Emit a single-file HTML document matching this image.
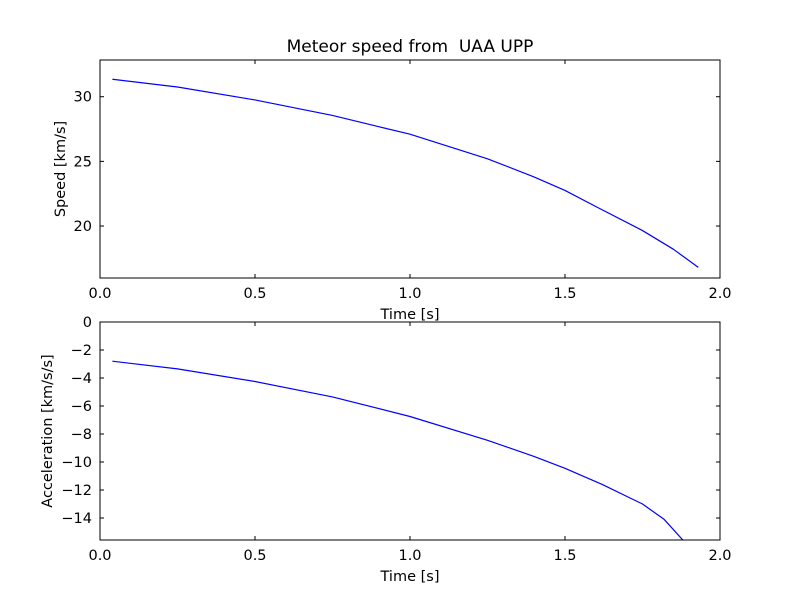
<!DOCTYPE html>
<html><head><meta charset="utf-8"><style>body{margin:0;background:#fff}svg text{font-family:"DejaVu Sans","Liberation Sans",sans-serif;fill:#000;white-space:pre}</style></head>
<body>
<svg id="c" width="800" height="600" xmlns="http://www.w3.org/2000/svg">
<rect width="800" height="600" fill="#fff"/>
</svg>
<script>
const speedT=[0.04,0.25,0.5,0.75,1.0,1.25,1.4,1.5,1.6,1.75,1.85,1.93];
const speedV=[31.35,30.75,29.75,28.55,27.1,25.2,23.8,22.75,21.5,19.65,18.2,16.8];
const accT=[0.04,0.25,0.5,0.75,1.0,1.25,1.4,1.5,1.62,1.75,1.82,1.88];
const accV=[-2.8,-3.35,-4.25,-5.35,-6.75,-8.45,-9.6,-10.45,-11.6,-13.0,-14.1,-15.57];
const xTicks=[0,0.5,1.0,1.5,2.0];
const xTickLabels=["0.0","0.5","1.0","1.5","2.0"];
const speedTicks=[20,25,30];
const accTicks=[0,-2,-4,-6,-8,-10,-12,-14];
const svg=document.getElementById('c');
const NS='http://www.w3.org/2000/svg';
function mk(t,a,p){const e=document.createElementNS(NS,t);for(const k in a)e.setAttribute(k,a[k]);(p||svg).appendChild(e);return e;}
function panel(name,top,bot,ymin,ymax,yt,ts,vs,ylab,title){
  const L=100,R=720;
  const g=mk('g',{});
  
  
  const xs=v=>L+(v-0)/(2-0)*(R-L);
  const ys=v=>bot-(v-ymin)/(ymax-ymin)*(bot-top);
  const pts=ts.map((t,i)=>xs(t).toFixed(2)+','+ys(vs[i]).toFixed(2)).join(' ');
  const cp=mk('clipPath',{id:'cp'+name},g);mk('rect',{x:L,y:top,width:R-L,height:bot-top},cp);
  const line=mk('polyline',{points:pts,fill:'none',stroke:'#0000ff','stroke-width':1.2,'stroke-linejoin':'round','clip-path':'url(#cp'+name+')'},g);
  
  
  const fr=mk('rect',{x:L,y:top,width:R-L,height:bot-top,fill:'none',stroke:'#000','stroke-width':1},g);
  
  
  xTicks.forEach((v,i)=>{const x=xs(v);
    mk('line',{x1:x,x2:x,y1:bot,y2:bot-4,stroke:'#000'},g);mk('line',{x1:x,x2:x,y1:top,y2:top+4,stroke:'#000'},g);
    const t=mk('text',{x:x,y:bot+20,'text-anchor':'middle','font-size':14.5},g);t.textContent=xTickLabels[i];
    });
  yt.forEach(v=>{const y=ys(v);
    mk('line',{x1:L,x2:L+4,y1:y,y2:y,stroke:'#000'},g);mk('line',{x1:R,x2:R-4,y1:y,y2:y,stroke:'#000'},g);
    const t=mk('text',{x:L-8,y:y+5,'text-anchor':'end','font-size':14.5},g);t.textContent=String(v).replace('-','\u2212');
    });
  const xl=mk('text',{x:(L+R)/2,y:bot+41,'text-anchor':'middle','font-size':14.5},g);xl.textContent='Time [s]';
  
  const yl=mk('text',{x:0,y:0,'text-anchor':'middle','font-size':14.5,transform:`translate(${name==='speed'?65:52},${(top+bot)/2}) rotate(-90)`},g);yl.textContent=ylab;
  
  if(title){const tt=mk('text',{x:(L+R)/2,y:top-8,'text-anchor':'middle','font-size':17},g);tt.textContent=title;
    }
}
panel('speed',60,278,15.98,32.84,speedTicks,speedT,speedV,'Speed [km/s]','Meteor speed from  UAA UPP');
panel('acceleration',322,540,-15.57,0,accTicks,accT,accV,'Acceleration [km/s/s]',null);
</script>
</body></html>
